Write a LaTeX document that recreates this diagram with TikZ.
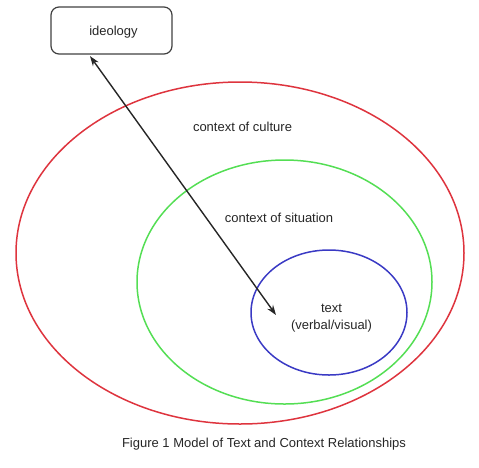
\documentclass[tikz,border=0pt]{standalone}
\usepackage{fontspec}
\setmainfont{Liberation Sans}
\usetikzlibrary{arrows.meta,calc}
\begin{document}
\begin{tikzpicture}[x=1pt,y=-1pt,
  lbl/.style={font=\fontsize{13}{17}\selectfont, text=black!85, inner sep=0pt, align=center},
  ring/.style={line width=1.5pt},
  boxstyle/.style={draw=black!75, line width=1.2pt, rounded corners=8pt, minimum width=121pt, minimum height=47pt, inner sep=0pt}]
\useasboundingbox (0,0) rectangle (479,467);
\definecolor{cred}{RGB}{222,52,62}
\definecolor{cgreen}{RGB}{84,222,84}
\definecolor{cblue}{RGB}{58,58,196}
\draw[ring, cred] (240,253) ellipse [x radius=224, y radius=171];
\draw[ring, cgreen] (284.5,282) ellipse [x radius=147.5, y radius=122];
\draw[ring, cblue] (329,312.5) ellipse [x radius=78, y radius=62.5];
\node[boxstyle] (ideo) at (111.5,30.5) {};
\node[lbl] (ideotxt) at (113.5,32) {ideology};
\node[lbl] (cult) at (242.5,127) {context of culture};
\node[lbl] (sit) at (279,218) {context of situation};
\node[lbl] (txt) at (331.5,318) {text\\(verbal/visual)};
\node[lbl] (cap) at (264,444) {Figure 1 Model of Text and Context Relationships};
\coordinate (tipA) at ($(ideo.south)+(-21.5,1.5)$);
\coordinate (tipB) at (276,315);
\draw[line width=1.4pt, black!85, {Stealth[length=10pt,width=7pt]}-{Stealth[length=10pt,width=7pt]}] (tipA) -- (tipB);
\end{tikzpicture}
\end{document}
